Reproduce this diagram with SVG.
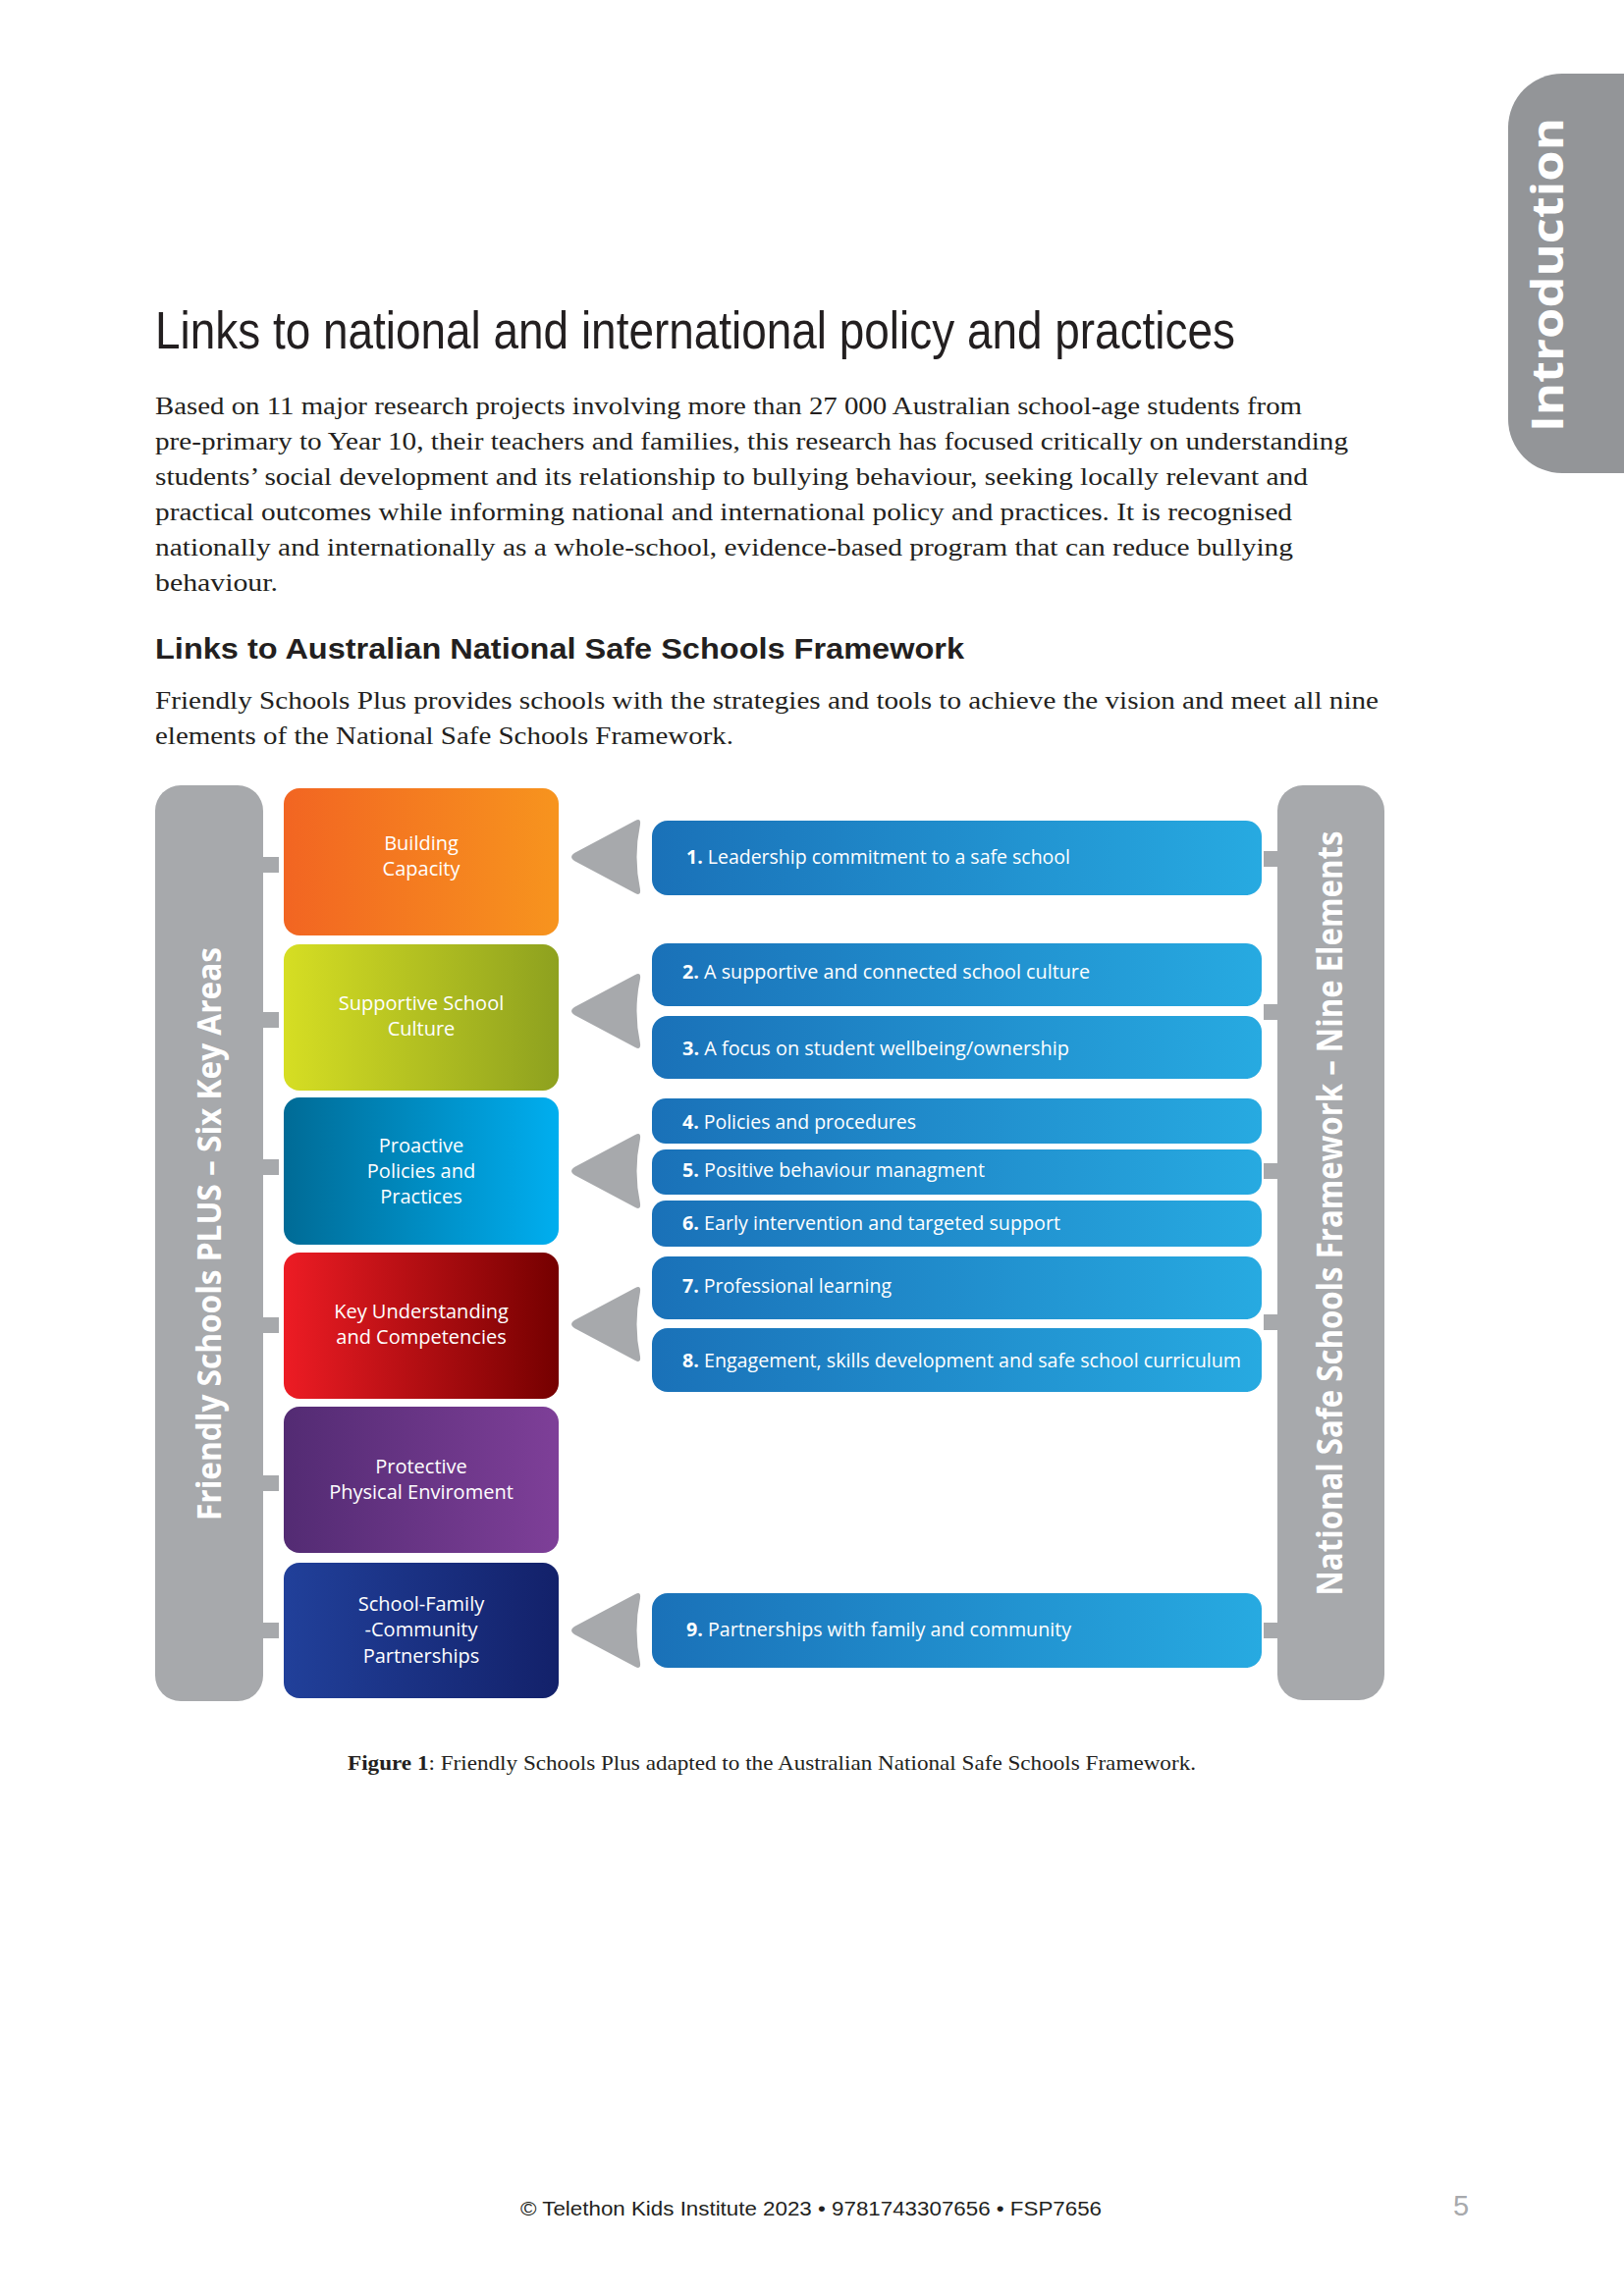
<svg xmlns="http://www.w3.org/2000/svg" xmlns:xlink="http://www.w3.org/1999/xlink" width="1654" height="2339" viewBox="0 0 1654 2339">
<style>
.title{font-family:"Liberation Sans",Arial,sans-serif;font-size:53px;fill:#231F20;}
.h2{font-family:"Liberation Sans",Arial,sans-serif;font-weight:bold;font-size:30px;fill:#231F20;}
.body{font-family:"Liberation Serif","Times New Roman",serif;font-size:26px;fill:#231F20;}
.cap{font-family:"Liberation Serif","Times New Roman",serif;font-size:21px;fill:#231F20;}
.foot{font-family:"Liberation Sans",Arial,sans-serif;font-size:20px;fill:#231F20;}
.pg{font-family:"Liberation Sans",Arial,sans-serif;font-size:29px;fill:#A7A9AC;}
.ka{font-family:"Open Sans","Noto Sans",sans-serif;font-size:20px;fill:#FFFFFF;text-anchor:middle;}
.el{font-family:"Open Sans","Noto Sans",sans-serif;font-size:20px;fill:#FFFFFF;}
.elb{font-weight:bold;}
.vt{font-family:"Open Sans","Noto Sans",sans-serif;font-weight:bold;fill:#FFFFFF;text-anchor:middle;}
.bar{fill:#A7A9AC;}
.tab{fill:#A7A9AC;}
.elbox{fill:url(#gEl);}
</style>
<defs>
<linearGradient id="gOr" x1="0" y1="0" x2="1" y2="0"><stop offset="0" stop-color="#F26522"/><stop offset="1" stop-color="#F7941E"/></linearGradient>
<linearGradient id="gGr" x1="0" y1="0" x2="1" y2="0"><stop offset="0" stop-color="#D6DE23"/><stop offset="1" stop-color="#8EA11F"/></linearGradient>
<linearGradient id="gBl" x1="0" y1="0" x2="1" y2="0"><stop offset="0" stop-color="#006B96"/><stop offset="1" stop-color="#00AEEF"/></linearGradient>
<linearGradient id="gRd" x1="0" y1="0" x2="1" y2="0"><stop offset="0" stop-color="#ED1C24"/><stop offset="1" stop-color="#750000"/></linearGradient>
<linearGradient id="gPu" x1="0" y1="0" x2="1" y2="0"><stop offset="0" stop-color="#532B73"/><stop offset="1" stop-color="#7E3F98"/></linearGradient>
<linearGradient id="gNv" x1="0" y1="0" x2="1" y2="0"><stop offset="0" stop-color="#21409A"/><stop offset="1" stop-color="#13216A"/></linearGradient>
<linearGradient id="gEl" x1="0" y1="0" x2="1" y2="0"><stop offset="0" stop-color="#1A71B8"/><stop offset="1" stop-color="#27AAE1"/></linearGradient>
<path id="arr" d="M 68,-37 L 6,-4 Q 0,0 6,4 L 68,37 Q 74,40 73,33 Q 66,0 73,-33 Q 74,-40 68,-37 Z" fill="#A7A9AC"/>
</defs>

<rect x="0" y="0" width="1654" height="2339" fill="#FFFFFF"/>

<!-- Introduction tab -->
<g id="intro-tab">
<path d="M 1654 75 L 1591 75 A 55 55 0 0 0 1536 130 L 1536 427 A 55 55 0 0 0 1591 482 L 1654 482 Z" fill="#939598"/>
<text class="vt" font-size="44" transform="translate(1592,280) rotate(-90)" textLength="320" lengthAdjust="spacingAndGlyphs">Introduction</text>
</g>

<!-- Headings and body -->
<text class="title" x="158" y="355" textLength="1100" lengthAdjust="spacingAndGlyphs">Links to national and international policy and practices</text>
<g id="intro-text">
<text class="body" x="158" y="422" textLength="1168" lengthAdjust="spacingAndGlyphs">Based on 11 major research projects involving more than 27 000 Australian school-age students from</text>
<text class="body" x="158" y="458" textLength="1215" lengthAdjust="spacingAndGlyphs">pre-primary to Year 10, their teachers and families, this research has focused critically on understanding</text>
<text class="body" x="158" y="494" textLength="1174" lengthAdjust="spacingAndGlyphs">students’ social development and its relationship to bullying behaviour, seeking locally relevant and</text>
<text class="body" x="158" y="530" textLength="1158" lengthAdjust="spacingAndGlyphs">practical outcomes while informing national and international policy and practices. It is recognised</text>
<text class="body" x="158" y="566" textLength="1159" lengthAdjust="spacingAndGlyphs">nationally and internationally as a whole-school, evidence-based program that can reduce bullying</text>
<text class="body" x="158" y="602" textLength="125" lengthAdjust="spacingAndGlyphs">behaviour.</text>
</g>
<text class="h2" x="158" y="671" textLength="824" lengthAdjust="spacingAndGlyphs">Links to Australian National Safe Schools Framework</text>
<g id="framework-text">
<text class="body" x="158" y="722" textLength="1246" lengthAdjust="spacingAndGlyphs">Friendly Schools Plus provides schools with the strategies and tools to achieve the vision and meet all nine</text>
<text class="body" x="158" y="758" textLength="589" lengthAdjust="spacingAndGlyphs">elements of the National Safe Schools Framework.</text>
</g>

<!-- Left bar -->
<g id="left-bar">
<rect class="bar" x="158" y="800" width="110" height="933" rx="26" ry="26"/>
<text class="vt" font-size="34" transform="translate(225,1257) rotate(-90)" textLength="584" lengthAdjust="spacingAndGlyphs">Friendly Schools PLUS – Six Key Areas</text>
</g>

<!-- Right bar -->
<g id="right-bar">
<rect class="bar" x="1301" y="800" width="109" height="932" rx="26" ry="26"/>
<text class="vt" font-size="36" transform="translate(1367,1236) rotate(-90)" textLength="779" lengthAdjust="spacingAndGlyphs">National Safe Schools Framework – Nine Elements</text>
</g>

<!-- Connectors: tabs and arrows -->
<g id="connectors">
<rect class="tab" x="266" y="873" width="18" height="16"/>
<rect class="tab" x="266" y="1031" width="18" height="16"/>
<rect class="tab" x="266" y="1181" width="18" height="16"/>
<rect class="tab" x="266" y="1342" width="18" height="16"/>
<rect class="tab" x="266" y="1503" width="18" height="16"/>
<rect class="tab" x="266" y="1653" width="18" height="16"/>
<rect class="tab" x="1287" y="867" width="16" height="16"/>
<rect class="tab" x="1287" y="1023" width="16" height="16"/>
<rect class="tab" x="1287" y="1185" width="16" height="16"/>
<rect class="tab" x="1287" y="1339" width="16" height="16"/>
<rect class="tab" x="1287" y="1653" width="16" height="16"/>
<use xlink:href="#arr" href="#arr" transform="translate(579,873)"/>
<use xlink:href="#arr" href="#arr" transform="translate(579,1030)"/>
<use xlink:href="#arr" href="#arr" transform="translate(579,1193)"/>
<use xlink:href="#arr" href="#arr" transform="translate(579,1349)"/>
<use xlink:href="#arr" href="#arr" transform="translate(579,1661)"/>
</g>

<!-- Six key areas -->
<g id="ka-building-capacity">
<rect x="289" y="803" width="280" height="150" rx="16" fill="url(#gOr)"/>
<text class="ka" x="429" y="866">Building</text>
<text class="ka" x="429" y="892">Capacity</text>
</g>
<g id="ka-supportive-school-culture">
<rect x="289" y="962" width="280" height="149" rx="16" fill="url(#gGr)"/>
<text class="ka" x="429" y="1029">Supportive School</text>
<text class="ka" x="429" y="1055">Culture</text>
</g>
<g id="ka-proactive-policies">
<rect x="289" y="1118" width="280" height="150" rx="16" fill="url(#gBl)"/>
<text class="ka" x="429" y="1174">Proactive</text>
<text class="ka" x="429" y="1200">Policies and</text>
<text class="ka" x="429" y="1226">Practices</text>
</g>
<g id="ka-key-understanding">
<rect x="289" y="1276" width="280" height="149" rx="16" fill="url(#gRd)"/>
<text class="ka" x="429" y="1343">Key Understanding</text>
<text class="ka" x="429" y="1369">and Competencies</text>
</g>
<g id="ka-protective-physical">
<rect x="289" y="1433" width="280" height="149" rx="16" fill="url(#gPu)"/>
<text class="ka" x="429" y="1501">Protective</text>
<text class="ka" x="429" y="1527">Physical Enviroment</text>
</g>
<g id="ka-school-family-community">
<rect x="289" y="1592" width="280" height="138" rx="16" fill="url(#gNv)"/>
<text class="ka" x="429" y="1641">School-Family</text>
<text class="ka" x="429" y="1667">-Community</text>
<text class="ka" x="429" y="1694">Partnerships</text>
</g>

<!-- Nine elements -->
<g id="el-1">
<rect class="elbox" x="664" y="836" width="621" height="76" rx="16"/>
<text class="el" x="699" y="880" textLength="391" lengthAdjust="spacingAndGlyphs"><tspan class="elb">1.</tspan> Leadership commitment to a safe school</text>
</g>
<g id="el-2">
<rect class="elbox" x="664" y="961" width="621" height="64" rx="16"/>
<text class="el" x="695" y="997" textLength="415" lengthAdjust="spacingAndGlyphs"><tspan class="elb">2.</tspan> A supportive and connected school culture</text>
</g>
<g id="el-3">
<rect class="elbox" x="664" y="1035" width="621" height="64" rx="16"/>
<text class="el" x="695" y="1075" textLength="394" lengthAdjust="spacingAndGlyphs"><tspan class="elb">3.</tspan> A focus on student wellbeing/ownership</text>
</g>
<g id="el-4">
<rect class="elbox" x="664" y="1119" width="621" height="46" rx="14"/>
<text class="el" x="695" y="1150" textLength="238" lengthAdjust="spacingAndGlyphs"><tspan class="elb">4.</tspan> Policies and procedures</text>
</g>
<g id="el-5">
<rect class="elbox" x="664" y="1171" width="621" height="46" rx="14"/>
<text class="el" x="695" y="1199" textLength="308" lengthAdjust="spacingAndGlyphs"><tspan class="elb">5.</tspan> Positive behaviour managment</text>
</g>
<g id="el-6">
<rect class="elbox" x="664" y="1223" width="621" height="47" rx="14"/>
<text class="el" x="695" y="1253" textLength="385" lengthAdjust="spacingAndGlyphs"><tspan class="elb">6.</tspan> Early intervention and targeted support</text>
</g>
<g id="el-7">
<rect class="elbox" x="664" y="1280" width="621" height="64" rx="16"/>
<text class="el" x="695" y="1317" textLength="213" lengthAdjust="spacingAndGlyphs"><tspan class="elb">7.</tspan> Professional learning</text>
</g>
<g id="el-8">
<rect class="elbox" x="664" y="1353" width="621" height="65" rx="16"/>
<text class="el" x="695" y="1393" textLength="569" lengthAdjust="spacingAndGlyphs"><tspan class="elb">8.</tspan> Engagement, skills development and safe school curriculum</text>
</g>
<g id="el-9">
<rect class="elbox" x="664" y="1623" width="621" height="76" rx="16"/>
<text class="el" x="699" y="1667" textLength="392" lengthAdjust="spacingAndGlyphs"><tspan class="elb">9.</tspan> Partnerships with family and community</text>
</g>

<!-- Caption and footer -->
<text class="cap" x="354" y="1803" textLength="864" lengthAdjust="spacingAndGlyphs"><tspan font-weight="bold">Figure 1</tspan>: Friendly Schools Plus adapted to the Australian National Safe Schools Framework.</text>
<text class="foot" x="530" y="2257" textLength="592" lengthAdjust="spacingAndGlyphs">© Telethon Kids Institute 2023 • 9781743307656 • FSP7656</text>
<text class="pg" x="1480" y="2257">5</text>
</svg>
